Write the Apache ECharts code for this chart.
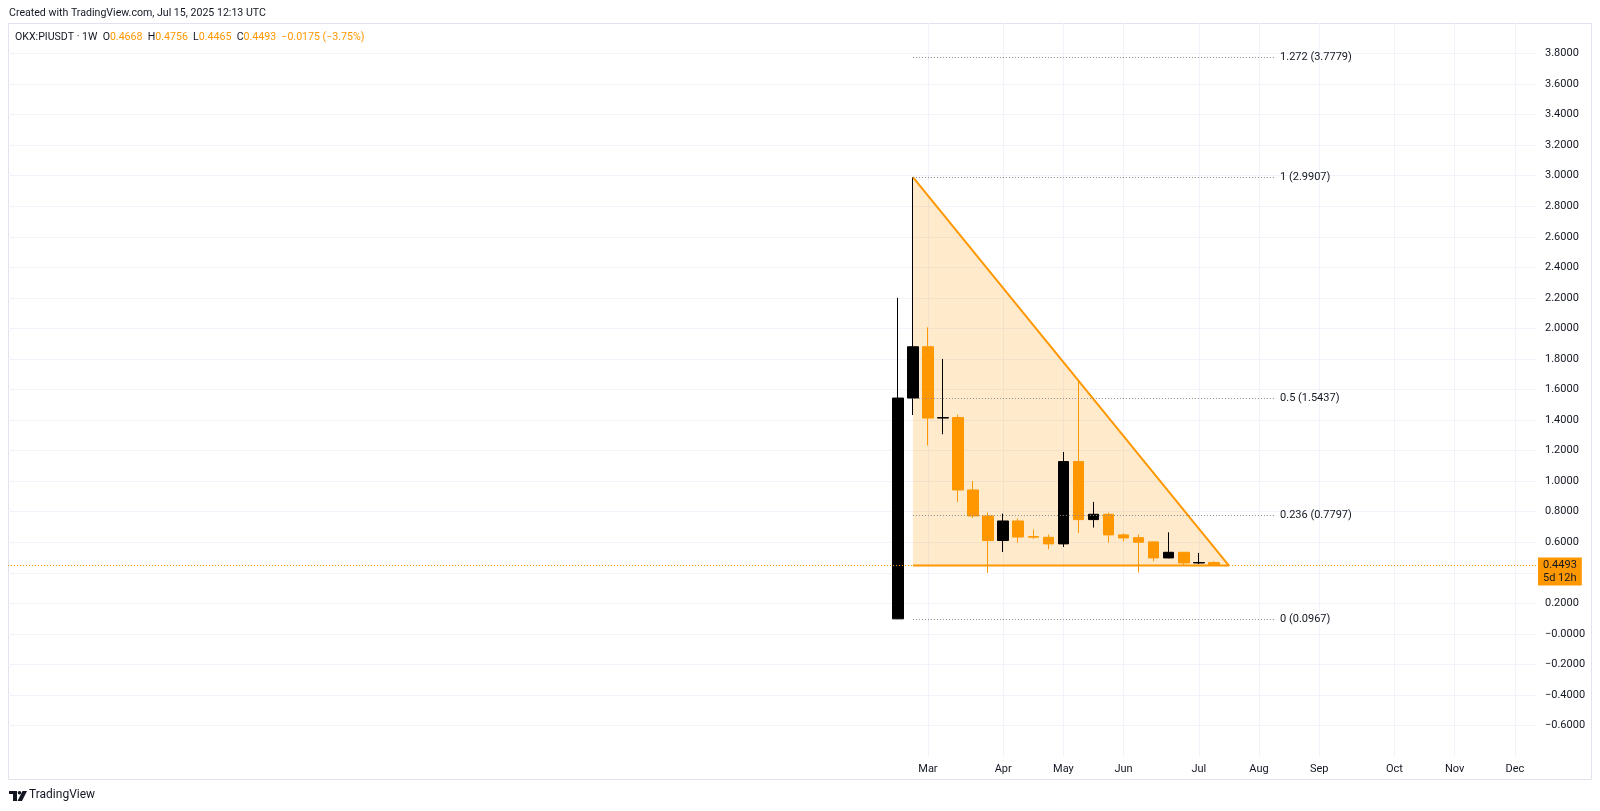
<!DOCTYPE html>
<html><head><meta charset="utf-8">
<script src="https://cdn.jsdelivr.net/npm/echarts@6/dist/echarts.min.js"></script>
<style>html,body{margin:0;padding:0;background:#fff;}#c{width:1600px;height:811px;}</style>
</head><body><div id="c"></div>
<script>
// ---- data ----
const weeks  = ['2025-02-17','2025-02-24','2025-03-03','2025-03-10','2025-03-17','2025-03-24','2025-03-31','2025-04-07','2025-04-14','2025-04-21','2025-04-28','2025-05-05','2025-05-12','2025-05-19','2025-05-26','2025-06-02','2025-06-09','2025-06-16','2025-06-23','2025-06-30','2025-07-07','2025-07-14'];
const opens  = [0.098, 1.544, 1.880, 1.413, 1.416, 0.942, 0.772, 0.611, 0.739, 0.637, 0.632, 0.589, 1.128, 0.748, 0.783, 0.648, 0.630, 0.602, 0.497, 0.534, 0.464, 0.4668];
const closes = [1.544, 1.880, 1.413, 1.416, 0.942, 0.772, 0.611, 0.739, 0.634, 0.633, 0.589, 1.128, 0.748, 0.783, 0.648, 0.628, 0.600, 0.497, 0.534, 0.464, 0.4668, 0.4493];
const lows   = [0.0967, 1.433, 1.233, 1.307, 0.864, 0.759, 0.399, 0.536, 0.596, 0.622, 0.554, 0.569, 0.661, 0.696, 0.598, 0.606, 0.401, 0.475, 0.495, 0.451, 0.456, 0.4465];
const highs  = [2.200, 2.9907, 2.007, 1.800, 1.435, 1.001, 0.794, 0.787, 0.755, 0.683, 0.650, 1.191, 1.655, 0.864, 0.794, 0.659, 0.650, 0.606, 0.665, 0.536, 0.530, 0.4756];

const monthTicks  = ['2025-03-03','2025-04-07','2025-05-05','2025-06-02','2025-07-07','2025-08-04','2025-09-01','2025-10-06','2025-11-03','2025-12-01'];
const monthLabels = ['Mar','Apr','May','Jun','Jul','Aug','Sep','Oct','Nov','Dec'];

const fibRatios = ['1.272','1','0.5','0.236','0'];
const fibValues = [3.7779, 2.9907, 1.5437, 0.7797, 0.0967];
const fibRange  = ['2025-02-24','2025-08-11'];

const triTimes  = ['2025-02-24','2025-07-21','2025-02-24']; // apex, bottom-right, bottom-left
const triValues = [2.9907, 0.447, 0.447];

const lastPrice = 0.4493;
const countdown = '5d 12h';
const headerLine1 = 'Created with TradingView.com, Jul 15, 2025 12:13 UTC';
const symbolText = 'OKX:PIUSDT · 1W';
const ohlcLast = {O:'0.4668', H:'0.4756', L:'0.4465', C:'0.4493', chg:'−0.0175 (−3.75%)'};

// ---- helpers ----
// x is measured in days since 2025-03-03 (a value axis)
const ANCHOR = Date.UTC(2025, 2, 3);
const dayNum = s => { const [y,m,d] = s.split('-').map(Number); return Math.round((Date.UTC(y, m-1, d) - ANCHOR) / 86400000); };
const FONT = 'Roboto, "Liberation Sans", sans-serif';
const TXT = '#131722';
const ORANGE = '#FF9800';

const candleData = weeks.map((w,i) => [dayNum(w), opens[i], closes[i], lows[i], highs[i]]);
const tickDays = monthTicks.map(dayNum);
const triPts = triTimes.map((t,i) => [dayNum(t), triValues[i]]);

const xMin = -427.9;
const xMax = 283.3;

const fmtY = v => {
  const r = Math.round(v * 10) / 10;
  if (Math.abs(r - 0.4) < 1e-9) return '';
  if (r === 0) return '\u22120.0000';
  return r < 0 ? '\u2212' + Math.abs(r).toFixed(4) : r.toFixed(4);
};

const fibLines = fibValues.map((v,i) => [
  { coord: [dayNum(fibRange[0]), v],
    label: { formatter: fibRatios[i] + ' (' + v.toFixed(4) + ')' } },
  { coord: [dayNum(fibRange[1]), v] }
]);

const chart = echarts.init(document.getElementById('c'), null, {renderer: 'canvas'});
chart.setOption({
  backgroundColor: '#ffffff',
  animation: false,
  textStyle: { fontFamily: FONT },
  grid: { left: 8, right: 63, top: 23, bottom: 55, containLabel: false },
  xAxis: {
    type: 'value', min: xMin, max: xMax, scale: true,
    axisLine: { show: false },
    axisTick: { show: false, customValues: tickDays },
    splitLine: { show: true, lineStyle: { color: '#f0f3fa', width: 1 } },
    axisLabel: {
      customValues: tickDays, margin: 8, color: TXT, fontSize: 11, fontFamily: FONT,
      formatter: v => { const k = tickDays.indexOf(Math.round(v)); return k >= 0 ? monthLabels[k] : ''; }
    }
  },
  yAxis: {
    type: 'value', position: 'right', min: -0.8, max: 4.0, interval: 0.2, scale: true,
    axisLine: { show: false }, axisTick: { show: false },
    splitLine: { showMinLine: false, showMaxLine: false, lineStyle: { color: '#f0f3fa', width: 1 } },
    axisLabel: { margin: 8, color: TXT, fontSize: 11, fontFamily: FONT,
      showMinLabel: false, showMaxLabel: false, formatter: fmtY }
  },
  series: [
    {
      type: 'custom', name: 'triangleFill', z: 1, silent: true,
      data: [[0, 0]],
      renderItem: (params, api) => ({
        type: 'polygon',
        shape: { points: triPts.map(p => api.coord(p)) },
        style: { fill: 'rgba(255,152,0,0.2)', stroke: 'none' }
      })
    },
    {
      type: 'candlestick', name: 'PIUSDT', z: 2, barWidth: 11,
      data: candleData,
      itemStyle: { color: '#000000', color0: ORANGE, borderColor: '#000000', borderColor0: ORANGE, borderWidth: 1 },
      markLine: {
        silent: true, symbol: ['none','none'], animation: false,
        lineStyle: { color: ORANGE, type: [1, 2], width: 1 },
        label: {
          position: 'end', distance: 1, backgroundColor: ORANGE, color: TXT,
          fontSize: 11, lineHeight: 13, padding: [1, 5, 1, 5], fontFamily: FONT, align: 'left',
          offset: [0, 6.5],
          formatter: lastPrice.toFixed(4) + '\n' + countdown
        },
        data: [{ yAxis: lastPrice }]
      }
    },
    {
      type: 'line', name: 'triangle', z: 3, silent: true,
      data: triPts, showSymbol: false, symbol: 'none',
      lineStyle: { color: ORANGE, width: 2 },
      markLine: {
        silent: true, symbol: ['none','none'], animation: false,
        lineStyle: { color: '#8a8a8a', type: [1, 2], width: 1 },
        label: { position: 'end', distance: 6, color: TXT, fontSize: 11, fontFamily: FONT },
        data: fibLines
      }
    }
  ],
  graphic: [
    { type: 'rect', silent: true, shape: { x: 8.5, y: 23.5, width: 1583, height: 756 },
      style: { fill: 'none', stroke: '#e0e3eb', lineWidth: 1 }, z: -1 },
    { type: 'text', left: 9, top: 8, silent: true,
      style: { text: headerLine1, fill: TXT, font: '10.6px ' + FONT } },
    { type: 'text', left: 15, top: 32, silent: true,
      style: {
        text: '{d|' + symbolText + '}  {d|O}{o|' + ohlcLast.O + '}  {d|H}{o|' + ohlcLast.H + '}  {d|L}{o|' + ohlcLast.L + '}  {d|C}{o|' + ohlcLast.C + '}  {o|' + ohlcLast.chg + '}',
        font: '10.6px ' + FONT,
        rich: { d: { fill: TXT, font: '10.6px ' + FONT }, o: { fill: ORANGE, font: '10.6px ' + FONT } }
      } },
    // TradingView logo
    { type: 'rect', silent: true, shape: { x: 9, y: 791, width: 8, height: 3 }, style: { fill: TXT } },
    { type: 'rect', silent: true, shape: { x: 13, y: 791, width: 4, height: 10 }, style: { fill: TXT } },
    { type: 'circle', silent: true, shape: { cx: 19.5, cy: 792.8, r: 1.8 }, style: { fill: TXT } },
    { type: 'polygon', silent: true, shape: { points: [[22.5,791],[27,791],[22,801],[17.5,801]] }, style: { fill: TXT } },
    { type: 'text', left: 29, top: 789, silent: true,
      style: { text: 'TradingView', fill: TXT, font: '12px ' + FONT } }
  ]
});
</script>
</body></html>
